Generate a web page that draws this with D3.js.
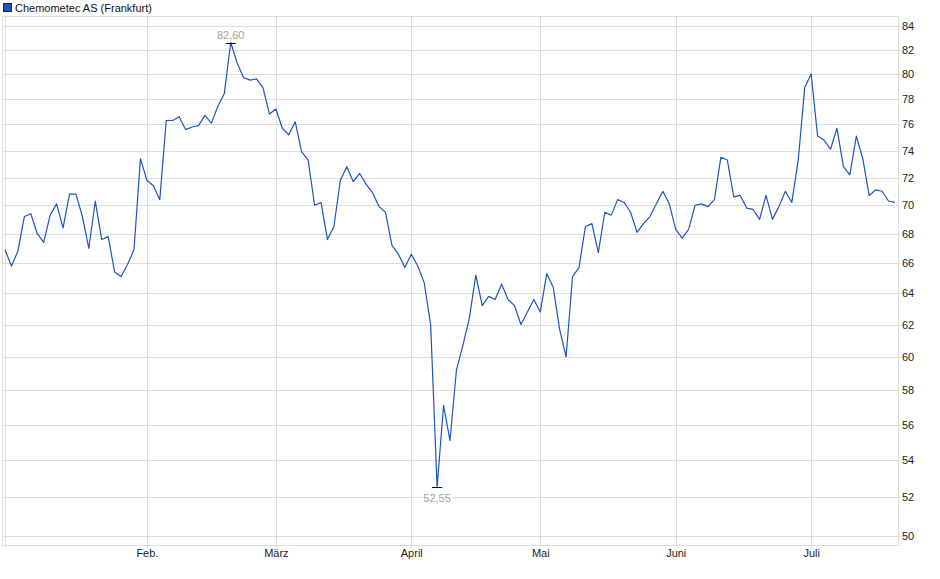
<!DOCTYPE html>
<html><head><meta charset="utf-8">
<script src="https://cdn.jsdelivr.net/npm/d3@7"></script>
<style>
body{margin:0;background:#fff;}
svg{display:block;font-family:"Liberation Sans",Arial,sans-serif;}
</style></head>
<body><svg id="c" width="940" height="579"></svg>
<script>
const seriesName = "Chemometec AS (Frankfurt)";
const prices = [66.9,65.8,66.8,69.2,69.4,68.0,67.4,69.3,70.1,68.4,70.8,70.8,69.2,67.0,70.3,67.6,67.8,65.4,65.1,65.9,66.9,73.4,71.8,
71.4,70.4,76.3,76.3,76.6,75.6,75.8,75.9,76.7,76.1,77.4,78.4,82.6,80.9,79.7,79.5,79.6,78.9,76.8,
77.2,75.7,75.2,76.2,73.9,73.3,70.0,70.2,67.6,68.5,71.8,72.8,71.7,72.3,71.5,70.9,69.9,69.5,67.2,66.6,65.7,
66.6,65.8,64.7,62.0,52.55,57.1,55.1,59.2,60.7,62.4,65.2,63.2,63.8,63.6,64.6,63.6,63.2,62.0,62.8,63.6,
62.8,65.3,64.4,61.7,60.0,65.1,65.7,68.5,68.7,66.7,69.5,69.3,70.4,70.2,69.5,68.1,68.7,69.2,70.1,71.0,70.1,
68.3,67.7,68.3,70.0,70.1,69.9,70.4,73.5,73.3,70.6,70.7,69.8,69.7,69.0,70.7,69.0,69.9,71.0,70.2,
73.3,78.9,80.0,75.1,74.8,74.1,75.7,72.8,72.2,75.1,73.4,70.7,71.1,71.0,70.3,70.2];
const monthLabels = ["","Feb.","März","April","Mai","Juni","Juli"];
const monthIndex = [0,22,42,63,83,104,125];
const yTicks = [50,52,54,56,58,60,62,64,66,68,70,72,74,76,78,80,82,84];

(function () {
const svg = d3.select("#c");
const pl = 2.5, pr = 898.5, pt = 16.5, pb = 545.5;
const x = d3.scaleLinear().domain([0, prices.length - 1]).range([5, 895]);
const y = d3.scaleLog().domain([50, 84]).range([536, 26]);
const grid = "#dcdcdc";

svg.append("g").selectAll("line").data(yTicks).join("line")
  .attr("x1", pl).attr("x2", pr + 1.5)
  .attr("y1", d => Math.round(y(d)) + 0.5).attr("y2", d => Math.round(y(d)) + 0.5)
  .attr("stroke", grid).attr("stroke-width", 1);
svg.append("g").selectAll("line").data(monthIndex).join("line")
  .attr("x1", d => Math.round(x(d)) + 0.5).attr("x2", d => Math.round(x(d)) + 0.5)
  .attr("y1", pt).attr("y2", pb + 2)
  .attr("stroke", grid).attr("stroke-width", 1);
svg.append("rect").attr("x", pl).attr("y", pt).attr("width", pr - pl).attr("height", pb - pt)
  .attr("fill", "none").attr("stroke", grid).attr("stroke-width", 1);

svg.append("g").selectAll("text").data(yTicks).join("text")
  .attr("x", 902).attr("y", d => y(d) + 4)
  .attr("font-size", 11).attr("fill", "#222").text(d => d);
svg.append("g").selectAll("text").data(monthIndex).join("text")
  .attr("x", d => x(d) + 0.5).attr("y", 557).attr("text-anchor", "middle")
  .attr("font-size", 11).attr("fill", "#222").text((d, i) => monthLabels[i]);

svg.append("clipPath").attr("id", "clip").append("rect")
  .attr("x", pl).attr("y", pt).attr("width", pr - pl).attr("height", pb - pt);
const line = d3.line().x((d, i) => x(i)).y(d => y(d));
svg.append("path").datum(prices).attr("d", line).attr("clip-path", "url(#clip)")
  .attr("fill", "none").attr("stroke", "#1a56c2").attr("stroke-width", 1.2).attr("stroke-linejoin", "round");

const maxI = d3.maxIndex(prices), minI = d3.minIndex(prices);
const fmt = v => v.toFixed(2).replace(".", ",");
const ann = svg.append("g");
function mark(i, above) {
  const px = x(i), py = Math.round(y(prices[i])) + 0.5;
  ann.append("line").attr("x1", px - 5).attr("x2", px + 5).attr("y1", py).attr("y2", py)
    .attr("stroke", "#000").attr("stroke-width", 1);
  const ty = above ? py - 5 : py + 14;
  const t = ann.append("text").attr("x", px).attr("y", ty).attr("text-anchor", "middle")
    .attr("font-size", 11).attr("fill", "#a9a295").text(fmt(prices[i]));
  const bb = t.node().getBBox();
  ann.insert("rect", "text").attr("x", bb.x - 1).attr("y", bb.y).attr("width", bb.width + 2).attr("height", bb.height)
    .attr("fill", "#fff");
}
mark(maxI, true);
mark(minI, false);

svg.append("rect").attr("x", 3.5).attr("y", 3.5).attr("width", 8).attr("height", 8)
  .attr("fill", "#1a56c2").attr("stroke", "#0a2a66").attr("stroke-width", 1);
svg.append("text").attr("x", 15).attr("y", 11.5).attr("font-size", 11).attr("fill", "#111").text(seriesName);
})();
</script></body></html>
